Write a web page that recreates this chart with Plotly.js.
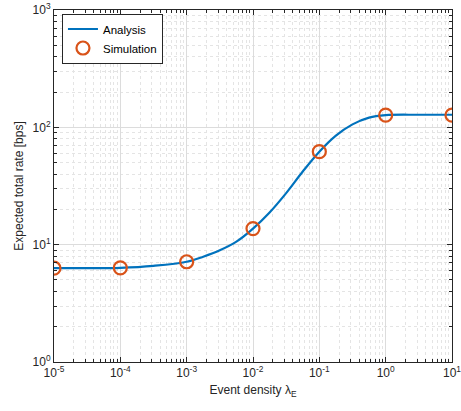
<!DOCTYPE html>
<html>
<head>
<meta charset="utf-8">
<script src="https://cdn.plot.ly/plotly-3.0.1.min.js"></script>
<style>html,body{margin:0;padding:0;background:#fff;}</style>
</head>
<body>
<div id="chart" style="width:461px;height:411px;"></div>
<script>
const analysisX = [1e-5, 3.162e-5, 1e-4, 3.162e-4, 1e-3, 1.778e-3, 3.162e-3, 5.623e-3, 1e-2, 1.778e-2, 3.162e-2, 5.623e-2, 1e-1, 1.778e-1, 3.162e-1, 5.623e-1, 1, 3.162, 10];
const analysisY = [6.3, 6.3, 6.35, 6.6, 7.15, 7.9, 8.95, 10.6, 13.7, 18.8, 27.5, 42, 62, 85, 106, 121, 127, 128, 128];
const simX = [1e-5, 1e-4, 1e-3, 1e-2, 1e-1, 1, 10];
const simY = [6.3, 6.35, 7.15, 13.7, 62, 127, 127];
const xTicks = [1e-5, 1e-4, 1e-3, 1e-2, 1e-1, 1, 10];
const xTickText = ['10<sup>-5</sup>', '10<sup>-4</sup>', '10<sup>-3</sup>', '10<sup>-2</sup>', '10<sup>-1</sup>', '10<sup>0</sup>', '10<sup>1</sup>'];
const yTicks = [1, 10, 100, 1000];
const yTickText = ['10<sup>0</sup>', '10<sup>1</sup>', '10<sup>2</sup>', '10<sup>3</sup>'];

function minorVals(decades) {
  const out = [];
  decades.slice(0, -1).forEach(d => { for (let m = 2; m <= 9; m++) out.push(m * d); });
  return out;
}

const font = {family: 'Liberation Sans, Arial, sans-serif', size: 12, color: '#262626'};
function axis(ticks, text, range, minor, title) {
  return {
    type: 'log', range: range,
    tickmode: 'array', tickvals: ticks, ticktext: text,
    ticklabeloverflow: 'allow',
    showline: true, linecolor: '#262626', linewidth: 1, mirror: 'allticks',
    ticks: 'inside', ticklen: 5, tickcolor: '#262626', tickwidth: 1,
    showgrid: true, gridcolor: '#dcdcdc', gridwidth: 1,
    tickfont: font, zeroline: false,
    minor: {tickmode: 'array', tickvals: minor, showgrid: true, gridcolor: '#e4e4e4', griddash: 'dot',
            gridwidth: 1, ticks: 'inside', ticklen: 3, tickcolor: '#262626', tickwidth: 1},
    title: {text: title, font: font, standoff: 6}
  };
}

const data = [
  {x: analysisX, y: analysisY, type: 'scatter', mode: 'lines', name: 'Analysis',
   line: {color: '#0072BD', width: 2.2, shape: 'spline', smoothing: 1}},
  {x: simX, y: simY, type: 'scatter', mode: 'markers', name: 'Simulation',
   marker: {symbol: 'circle-open', size: 13, color: '#D95319', line: {width: 2.2, color: '#D95319'}}}
];

const layout = {
  width: 461, height: 411,
  margin: {l: 54, r: 9, t: 10, b: 49},
  paper_bgcolor: '#fff', plot_bgcolor: '#fff',
  font: font,
  showlegend: true,
  legend: {x: 0.02, y: 0.99, xanchor: 'left', yanchor: 'top', bgcolor: '#fff',
           bordercolor: '#262626', borderwidth: 1, font: {family: font.family, size: 11.5, color: '#000'},
           tracegroupgap: 0, itemwidth: 30},
  xaxis: axis(xTicks, xTickText, [-5, 1], minorVals(xTicks), 'Event density λ<sub>E</sub>'),
  yaxis: axis(yTicks, yTickText, [0, 3], minorVals(yTicks), 'Expected total rate [bps]')
};

Plotly.newPlot('chart', data, layout, {displayModeBar: false, staticPlot: true});
</script>
</body>
</html>
